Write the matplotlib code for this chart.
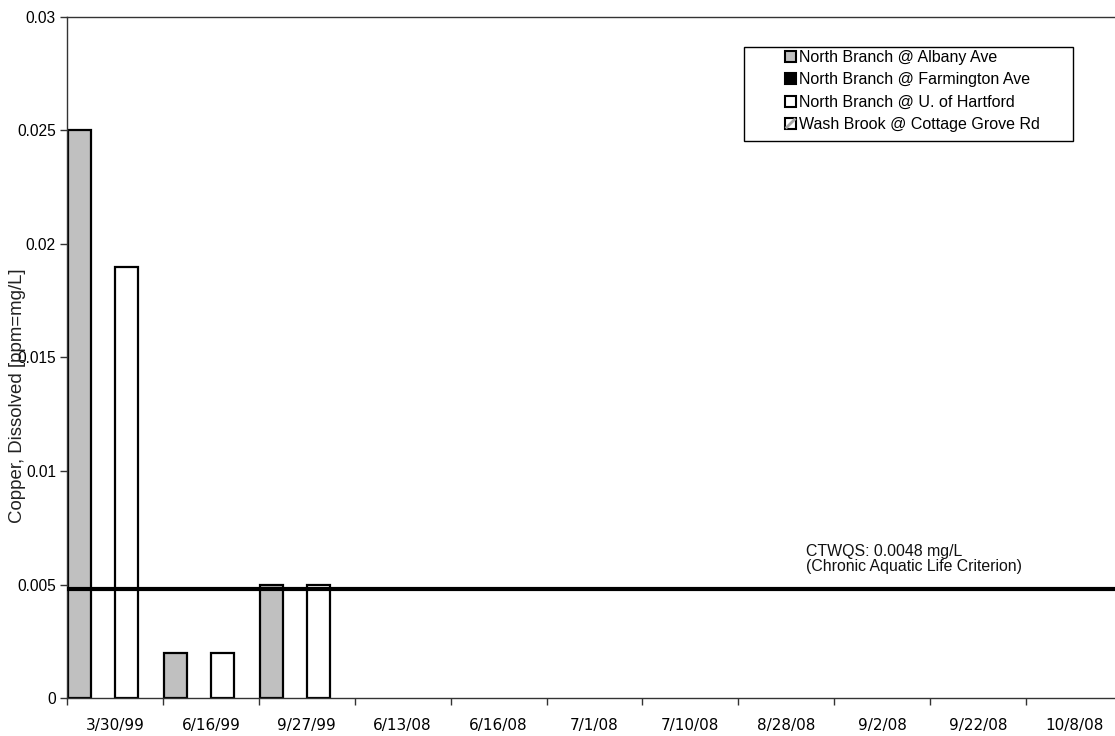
import numpy as np
import matplotlib
matplotlib.use("Agg")
import matplotlib.pyplot as plt
from matplotlib.patches import Patch, Rectangle
from matplotlib.lines import Line2D
from matplotlib.legend_handler import HandlerPatch

plt.rcParams['font.family'] = ['Liberation Sans', 'DejaVu Sans']

# Sampling dates and dissolved copper results (mg/L); None = not sampled / no result
dates = ["3/30/99", "6/16/99", "9/27/99", "6/13/08", "6/16/08", "7/1/08",
         "7/10/08", "8/28/08", "9/2/08", "9/22/08", "10/8/08"]
albany = [0.025, 0.002, 0.005, None, None, None, None, None, None, None, None]
farmington = [None] * 11
hartford = [0.019, 0.002, 0.005, None, None, None, None, None, None, None, None]
wash_brook = [None] * 11

series_names = ["North Branch @ Albany Ave", "North Branch @ Farmington Ave",
                "North Branch @ U. of Hartford", "Wash Brook @ Cottage Grove Rd"]
criterion = 0.0048
criterion_text = "CTWQS: 0.0048 mg/L\n(Chronic Aquatic Life Criterion)"
y_ticks = [0, 0.005, 0.01, 0.015, 0.02, 0.025, 0.03]
y_tick_labels = ["0", "0.005", "0.01", "0.015", "0.02", "0.025", "0.03"]


def as_array(vals):
    return np.array([np.nan if v is None else v for v in vals], dtype=float)


class HatchedSquareHandler(HandlerPatch):
    """Legend key: white square with a light diagonal stroke and a black border."""

    def create_artists(self, legend, orig_handle, xdescent, ydescent,
                       width, height, fontsize, trans):
        box = Rectangle((-xdescent, -ydescent), width, height, facecolor="white",
                        edgecolor="black", linewidth=1.5, transform=trans)
        stroke = Line2D([-xdescent + 0.15 * width, -xdescent + 0.85 * width],
                        [-ydescent + 0.15 * height, -ydescent + 0.85 * height],
                        color="#A8A8A8", linewidth=2.0, transform=trans)
        return [box, stroke]


W, H = 1115, 736
fig = plt.figure(figsize=(W / 100, H / 100), dpi=100)
ax = fig.add_axes([67 / W, 1 - 698.3 / H, 1055 / W, 681.6 / H])

x = np.arange(len(dates))
bw = 0.245
offsets = np.array([-1.5, -0.5, 0.5, 1.5]) * bw
edge_lw = 1.6

ax.bar(x + offsets[0], as_array(albany), bw, color="#C0C0C0",
       edgecolor="black", linewidth=edge_lw, zorder=2)
ax.bar(x + offsets[1], as_array(farmington), bw, color="black",
       edgecolor="black", linewidth=edge_lw, zorder=2)
ax.bar(x + offsets[2], as_array(hartford), bw, color="white",
       edgecolor="black", linewidth=edge_lw, zorder=2)
ax.bar(x + offsets[3], as_array(wash_brook), bw, color="white",
       edgecolor="black", linewidth=edge_lw, hatch="/", zorder=2)

# Water-quality criterion line and its note
ax.axhline(criterion, color="black", linewidth=3.0, zorder=3)
ax.text(7.2, criterion + 0.00066, criterion_text,
        fontsize=11.4, ha="left", va="bottom", linespacing=1.05, color="#111111")

ax.set_xlim(-0.5, len(dates) - 0.5)
ax.set_ylim(0, 0.03)

# Category boundaries carry the tick marks, labels sit at the centres
ax.set_xticks(np.arange(len(dates) + 1) - 0.5)
ax.set_xticklabels([])
ax.set_xticks(x, minor=True)
ax.set_xticklabels(dates, minor=True, fontsize=11, family=["DejaVu Sans"])
ax.tick_params(axis="x", which="major", direction="out", length=5, width=1, color="#333333")
ax.tick_params(axis="x", which="minor", length=0, pad=14)
ax.set_yticks(y_ticks)
ax.set_yticklabels(y_tick_labels, fontsize=11.2)
ax.tick_params(axis="y", direction="out", length=5, width=1, color="#333333", pad=3)

for side in ["left", "bottom", "top"]:
    ax.spines[side].set_color("#333333")
    ax.spines[side].set_linewidth(1.0)
ax.spines["right"].set_visible(False)

fig.text(18 / W, 1 - 396 / H, "Copper, Dissolved [ppm=mg/L]", rotation=90,
         ha="center", va="center", fontsize=13.4, color="#222222")

# Legend
wash_key = Patch(facecolor="white", edgecolor="black")
handles = [
    Patch(facecolor="#C0C0C0", edgecolor="black", linewidth=1.5),
    Patch(facecolor="black", edgecolor="black", linewidth=1.5),
    Patch(facecolor="white", edgecolor="black", linewidth=1.5),
    wash_key,
]
leg = fig.legend(handles, series_names, loc="upper left",
                 bbox_to_anchor=(785 / W, 1 - 50 / H), frameon=False,
                 fontsize=11.5, handlelength=0.7, handleheight=0.7,
                 handletextpad=0.2, labelspacing=0.46, borderpad=0, borderaxespad=0,
                 handler_map={wash_key: HatchedSquareHandler()})
fig.patches.append(Rectangle((744 / W, 1 - 141 / H), 329 / W, 94 / H,
                             transform=fig.transFigure, facecolor="white",
                             edgecolor="black", linewidth=1.0, zorder=0))
leg.set_zorder(5)

fig.savefig("out.png", dpi=100, facecolor="white")
